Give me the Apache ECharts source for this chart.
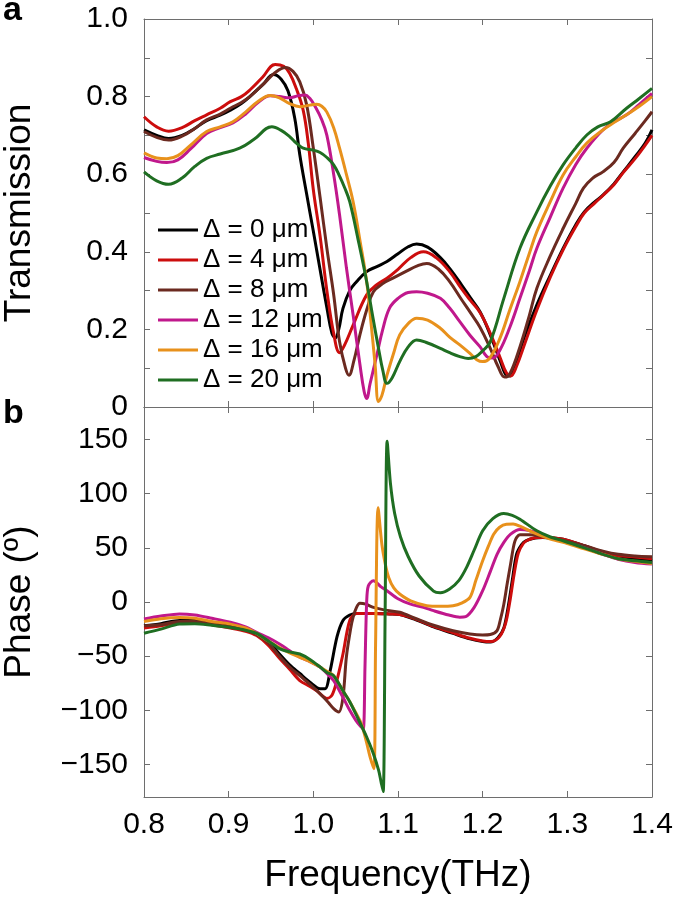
<!DOCTYPE html>
<html>
<head>
<meta charset="utf-8">
<script src="https://cdn.jsdelivr.net/npm/echarts@6/dist/echarts.min.js"></script>
<style>
html,body{margin:0;padding:0;background:#fff;}
#chart{width:675px;height:897px;}
</style>
</head>
<body>
<div id="chart"></div>
<script>
// ---------- data ----------
var seriesNames = ['\u0394 = 0 \u03bcm', '\u0394 = 4 \u03bcm', '\u0394 = 8 \u03bcm', '\u0394 = 12 \u03bcm', '\u0394 = 16 \u03bcm', '\u0394 = 20 \u03bcm'];
var seriesColors = ['#000000', '#cc0d0d', '#6b2a20', '#c0188c', '#e8911c', '#1f6e22'];
var freqTicks = [0.8, 0.9, 1.0, 1.1, 1.2, 1.3, 1.4];
var transTicks = [0, 0.2, 0.4, 0.6, 0.8, 1.0];
var phaseTicks = [-150, -100, -50, 0, 50, 100, 150];

// Transmission [frequency (THz), T]
var trans0 = [[0.800,0.714],[0.815,0.700],[0.829,0.692],[0.845,0.700],[0.860,0.718],[0.874,0.738],[0.890,0.752],[0.902,0.765],[0.915,0.782],[0.925,0.800],[0.940,0.830],[0.953,0.857],[0.962,0.845],[0.970,0.815],[0.978,0.745],[0.984,0.650],[0.992,0.550],[1.000,0.453],[1.008,0.354],[1.016,0.256],[1.022,0.190],[1.026,0.178],[1.030,0.200],[1.035,0.254],[1.043,0.300],[1.051,0.323],[1.063,0.349],[1.075,0.362],[1.087,0.375],[1.100,0.395],[1.112,0.413],[1.122,0.420],[1.135,0.412],[1.150,0.385],[1.161,0.357],[1.175,0.315],[1.185,0.283],[1.197,0.245],[1.209,0.186],[1.221,0.117],[1.228,0.082],[1.232,0.080],[1.240,0.120],[1.250,0.185],[1.264,0.263],[1.280,0.340],[1.295,0.409],[1.310,0.470],[1.320,0.503],[1.332,0.528],[1.342,0.546],[1.355,0.575],[1.366,0.606],[1.380,0.645],[1.392,0.680],[1.400,0.714]];
var trans4 = [[0.800,0.748],[0.815,0.722],[0.829,0.711],[0.845,0.720],[0.860,0.738],[0.874,0.753],[0.890,0.770],[0.902,0.787],[0.915,0.800],[0.925,0.817],[0.940,0.850],[0.955,0.883],[0.965,0.878],[0.972,0.860],[0.980,0.820],[0.988,0.765],[0.994,0.680],[1.000,0.560],[1.008,0.440],[1.016,0.300],[1.024,0.190],[1.031,0.140],[1.037,0.160],[1.047,0.211],[1.063,0.289],[1.075,0.315],[1.087,0.332],[1.100,0.355],[1.115,0.385],[1.130,0.400],[1.145,0.385],[1.161,0.349],[1.175,0.305],[1.185,0.276],[1.197,0.243],[1.209,0.190],[1.221,0.125],[1.228,0.088],[1.233,0.080],[1.240,0.105],[1.250,0.165],[1.264,0.250],[1.280,0.335],[1.295,0.405],[1.310,0.465],[1.320,0.500],[1.332,0.525],[1.342,0.545],[1.355,0.573],[1.366,0.604],[1.380,0.640],[1.392,0.675],[1.400,0.700]];
var trans8 = [[0.800,0.710],[0.815,0.695],[0.829,0.688],[0.845,0.698],[0.860,0.718],[0.874,0.740],[0.890,0.755],[0.902,0.770],[0.915,0.785],[0.925,0.800],[0.940,0.830],[0.955,0.862],[0.967,0.875],[0.976,0.865],[0.984,0.838],[0.992,0.780],[1.000,0.667],[1.008,0.540],[1.016,0.409],[1.024,0.290],[1.031,0.168],[1.038,0.100],[1.042,0.082],[1.048,0.120],[1.055,0.186],[1.063,0.250],[1.071,0.297],[1.082,0.318],[1.094,0.332],[1.110,0.350],[1.122,0.363],[1.134,0.370],[1.148,0.355],[1.161,0.323],[1.175,0.277],[1.185,0.245],[1.197,0.205],[1.209,0.151],[1.218,0.105],[1.226,0.077],[1.232,0.085],[1.244,0.155],[1.255,0.235],[1.264,0.306],[1.280,0.390],[1.295,0.460],[1.310,0.525],[1.319,0.564],[1.330,0.590],[1.342,0.606],[1.355,0.630],[1.366,0.667],[1.380,0.705],[1.392,0.738],[1.400,0.761]];
var trans12 = [[0.800,0.643],[0.815,0.633],[0.827,0.630],[0.840,0.637],[0.855,0.665],[0.874,0.705],[0.890,0.720],[0.905,0.732],[0.920,0.755],[0.935,0.785],[0.949,0.802],[0.960,0.800],[0.972,0.797],[0.982,0.802],[0.990,0.804],[0.996,0.795],[1.002,0.775],[1.010,0.740],[1.016,0.700],[1.024,0.600],[1.031,0.495],[1.039,0.360],[1.047,0.237],[1.055,0.110],[1.060,0.040],[1.063,0.022],[1.067,0.060],[1.075,0.134],[1.082,0.200],[1.090,0.255],[1.100,0.280],[1.112,0.295],[1.122,0.297],[1.135,0.293],[1.150,0.280],[1.161,0.255],[1.173,0.220],[1.185,0.185],[1.197,0.155],[1.205,0.130],[1.212,0.126],[1.220,0.145],[1.232,0.205],[1.244,0.280],[1.255,0.350],[1.264,0.409],[1.280,0.490],[1.295,0.564],[1.310,0.625],[1.323,0.667],[1.342,0.714],[1.355,0.735],[1.370,0.753],[1.385,0.780],[1.400,0.808]];
var trans16 = [[0.800,0.655],[0.815,0.642],[0.827,0.640],[0.840,0.648],[0.855,0.675],[0.874,0.710],[0.890,0.722],[0.905,0.735],[0.920,0.760],[0.935,0.788],[0.949,0.803],[0.960,0.797],[0.972,0.782],[0.984,0.774],[0.996,0.778],[1.004,0.780],[1.010,0.775],[1.016,0.760],[1.024,0.720],[1.031,0.667],[1.039,0.600],[1.047,0.529],[1.055,0.430],[1.063,0.323],[1.068,0.220],[1.073,0.108],[1.077,0.014],[1.081,0.030],[1.087,0.082],[1.095,0.140],[1.102,0.186],[1.112,0.215],[1.122,0.229],[1.135,0.224],[1.150,0.203],[1.161,0.180],[1.173,0.160],[1.185,0.138],[1.193,0.122],[1.200,0.117],[1.208,0.125],[1.220,0.175],[1.232,0.250],[1.244,0.323],[1.255,0.395],[1.264,0.452],[1.280,0.530],[1.295,0.598],[1.310,0.645],[1.323,0.680],[1.342,0.714],[1.355,0.733],[1.370,0.753],[1.385,0.775],[1.400,0.800]];
var trans20 = [[0.800,0.606],[0.815,0.583],[0.829,0.574],[0.845,0.590],[0.860,0.620],[0.874,0.641],[0.890,0.652],[0.913,0.667],[0.930,0.690],[0.951,0.722],[0.962,0.713],[0.972,0.697],[0.980,0.680],[0.988,0.667],[1.000,0.662],[1.008,0.656],[1.016,0.643],[1.024,0.624],[1.031,0.595],[1.037,0.565],[1.043,0.529],[1.053,0.430],[1.063,0.323],[1.070,0.235],[1.077,0.151],[1.082,0.095],[1.087,0.061],[1.093,0.075],[1.102,0.117],[1.112,0.155],[1.122,0.173],[1.135,0.165],[1.150,0.151],[1.161,0.140],[1.173,0.130],[1.183,0.125],[1.192,0.130],[1.200,0.145],[1.209,0.168],[1.225,0.280],[1.244,0.409],[1.264,0.503],[1.280,0.570],[1.295,0.624],[1.310,0.668],[1.323,0.701],[1.336,0.722],[1.351,0.735],[1.370,0.770],[1.385,0.795],[1.400,0.821]];

// Phase [frequency (THz), degrees]
var phase0 = [[0.800,-22],[0.820,-20],[0.842,-17],[0.860,-17],[0.880,-19],[0.902,-22],[0.920,-25],[0.933,-29],[0.947,-36],[0.960,-48],[0.972,-58],[0.984,-66],[0.996,-74],[1.008,-80],[1.014,-80],[1.020,-63],[1.028,-32],[1.035,-17],[1.043,-12],[1.051,-10.5],[1.070,-10.5],[1.090,-11],[1.102,-11.5],[1.120,-16],[1.142,-23],[1.165,-29],[1.185,-34],[1.200,-36.5],[1.209,-37],[1.218,-33],[1.225,-24],[1.230,-5],[1.235,20],[1.240,44],[1.246,53],[1.251,56.5],[1.262,59],[1.271,59.5],[1.283,59],[1.295,58],[1.320,52],[1.342,45.7],[1.360,42],[1.380,40],[1.400,38]];
var phase4 = [[0.800,-24],[0.820,-22],[0.842,-19],[0.860,-19],[0.880,-21],[0.902,-24],[0.920,-27],[0.933,-31],[0.947,-40],[0.960,-52],[0.972,-62],[0.984,-72.5],[0.996,-78],[1.004,-82],[1.016,-89],[1.022,-86],[1.027,-75],[1.035,-48],[1.043,-17],[1.051,-10.5],[1.070,-10.5],[1.090,-11],[1.102,-11.5],[1.120,-15.5],[1.142,-22.5],[1.165,-28.5],[1.185,-33.5],[1.200,-36],[1.210,-36.5],[1.220,-32],[1.227,-20],[1.232,0],[1.237,25],[1.242,45],[1.248,54],[1.253,57],[1.264,59.5],[1.275,59.5],[1.295,58],[1.320,52],[1.342,46],[1.360,43],[1.380,41.5],[1.400,40]];
var phase8 = [[0.800,-22],[0.820,-21],[0.842,-18],[0.860,-18],[0.880,-20],[0.902,-23],[0.920,-26],[0.933,-30],[0.947,-38],[0.960,-50],[0.972,-60],[0.984,-68],[0.996,-76],[1.008,-84.7],[1.018,-93],[1.024,-98.5],[1.030,-101.6],[1.035,-88],[1.039,-51],[1.044,-25],[1.047,-14],[1.051,-5],[1.055,-1.2],[1.062,-2],[1.071,-5],[1.085,-7.5],[1.102,-9.5],[1.120,-15],[1.142,-21.5],[1.165,-26.5],[1.185,-29.5],[1.200,-30.5],[1.209,-30],[1.217,-26.4],[1.221,-16],[1.225,-2],[1.229,17],[1.233,35],[1.238,56],[1.244,62],[1.255,62],[1.270,60.5],[1.290,57.5],[1.320,52],[1.342,47],[1.360,44],[1.380,42.5],[1.400,41.7]];
var phase12 = [[0.800,-15.7],[0.820,-13],[0.842,-11],[0.860,-12],[0.880,-15],[0.902,-18.7],[0.920,-23],[0.933,-28],[0.947,-33],[0.960,-38.7],[0.972,-45],[0.984,-51],[0.996,-55],[1.008,-60],[1.016,-66],[1.024,-72.5],[1.035,-88],[1.043,-100],[1.050,-109],[1.056,-115],[1.059,-117],[1.061,-60],[1.063,0],[1.065,15],[1.071,19.6],[1.080,14],[1.087,10.4],[1.100,3],[1.114,-1.8],[1.130,-5],[1.142,-8],[1.160,-12],[1.173,-14],[1.180,-13.5],[1.190,-5],[1.200,10.4],[1.209,28],[1.217,44],[1.225,55],[1.233,62.6],[1.244,67],[1.255,66],[1.270,62],[1.290,57],[1.320,50],[1.342,44],[1.360,39.5],[1.380,36.5],[1.400,35]];
var phase16 = [[0.800,-18],[0.820,-15.5],[0.842,-14.4],[0.860,-15],[0.880,-18],[0.902,-20.4],[0.920,-24],[0.933,-29],[0.947,-36],[0.960,-42],[0.972,-47],[0.984,-51],[0.996,-55],[1.008,-60],[1.016,-64],[1.024,-68],[1.035,-82],[1.043,-92],[1.050,-102],[1.057,-113],[1.063,-130],[1.067,-143],[1.0715,-154],[1.0735,-40],[1.0765,87],[1.081,53],[1.085,35],[1.089,22.7],[1.095,13],[1.102,7.4],[1.115,1],[1.134,-3.4],[1.150,-4],[1.165,-3.4],[1.175,-1],[1.185,4.3],[1.192,20],[1.200,38],[1.207,52],[1.213,62.6],[1.220,69],[1.228,71.8],[1.236,72],[1.244,70],[1.260,64],[1.280,58],[1.300,54],[1.320,49],[1.342,44],[1.360,40],[1.380,37.5],[1.400,35.5]];
var phase20 = [[0.800,-28.8],[0.820,-25],[0.842,-20.3],[0.860,-20],[0.880,-21.5],[0.902,-23.6],[0.920,-26],[0.933,-29],[0.947,-36],[0.960,-43],[0.972,-46],[0.984,-48],[0.996,-53],[1.008,-60],[1.016,-65],[1.024,-68],[1.035,-82],[1.043,-92],[1.053,-108],[1.063,-124.6],[1.070,-138],[1.077,-155],[1.080,-166],[1.0825,-175],[1.0848,-10],[1.0872,148.5],[1.091,110],[1.096,82],[1.103,60],[1.112,42],[1.125,24],[1.142,10],[1.150,8.5],[1.161,12],[1.172,20],[1.181,32],[1.190,48],[1.200,65.7],[1.212,77],[1.225,81.7],[1.235,80],[1.244,76.4],[1.264,65.7],[1.280,60],[1.295,56.5],[1.320,50],[1.342,44],[1.360,40],[1.380,38],[1.400,36.5]];

var transData = [trans0, trans4, trans8, trans12, trans16, trans20];
var phaseData = [phase0, phase4, phase8, phase12, phase16, phase20];

// ---------- chart ----------
var FONT = "'Liberation Sans', Arial, Helvetica, sans-serif";
var AX = '#6e6e6e';
var chart = echarts.init(document.getElementById('chart'), null, {renderer: 'canvas'});

function xAxisDef(gridIndex, position, showLabels) {
  var a = {
    type: 'value', gridIndex: gridIndex, position: position,
    min: 0.8, max: 1.4, interval: 0.1,
    axisLine: {show: true, onZero: false, lineStyle: {color: AX, width: 1}},
    axisTick: {show: true, inside: true, length: 6, lineStyle: {color: AX, width: 1}},
    splitLine: {show: false},
    axisLabel: {show: showLabels, fontFamily: FONT, fontSize: 30, color: '#000', margin: 13,
      formatter: function (v) { return v.toFixed(1); }}
  };
  if (showLabels) {
    a.name = 'Frequency(THz)';
    a.nameLocation = 'middle';
    a.nameGap = 60;
    a.nameTextStyle = {fontFamily: FONT, fontSize: 37, color: '#000'};
  }
  return a;
}

function transAxis(position, showLabels) {
  return {
    type: 'value', gridIndex: 0, position: position, min: 0, max: 1, interval: 0.1,
    axisLine: {show: true, onZero: false, lineStyle: {color: AX, width: 1}},
    axisTick: {show: true, inside: true, length: 6, lineStyle: {color: AX, width: 1}},
    splitLine: {show: false},
    name: showLabels ? 'Transmission' : '',
    nameLocation: 'middle', nameGap: 106,
    nameTextStyle: {fontFamily: FONT, fontSize: 37, color: '#000'},
    axisLabel: {show: showLabels, fontFamily: FONT, fontSize: 30, color: '#000', margin: 16,
      formatter: function (v) {
        var r = Math.round(v * 10) / 10;
        for (var i = 0; i < transTicks.length; i++) {
          if (Math.abs(transTicks[i] - r) < 1e-6) return r === 0 ? '0' : r.toFixed(1);
        }
        return '';
      }}
  };
}

function phaseAxis(position, showLabels) {
  return {
    type: 'value', gridIndex: 1, position: position, min: -180, max: 180,
    axisLine: {show: true, onZero: false, lineStyle: {color: AX, width: 1}},
    axisTick: {show: true, inside: true, length: 6, customValues: phaseTicks, lineStyle: {color: AX, width: 1}},
    splitLine: {show: false},
    name: showLabels ? 'Phase (\u00ba)' : '',
    nameLocation: 'middle', nameGap: 106,
    nameTextStyle: {fontFamily: FONT, fontSize: 37, color: '#000'},
    axisLabel: {show: showLabels, customValues: phaseTicks, fontFamily: FONT, fontSize: 30, color: '#000', margin: 16,
      formatter: function (v) { return v < 0 ? '\u2212' + Math.abs(v) : String(v); }}
  };
}

var series = [];
for (var i = 0; i < 6; i++) {
  series.push({
    name: seriesNames[i], type: 'line', xAxisIndex: 0, yAxisIndex: 0,
    data: transData[i], showSymbol: false, symbol: 'none', smooth: 0.4,
    lineStyle: {width: 3, color: seriesColors[i]}, itemStyle: {color: seriesColors[i]},
    z: 2 + i
  });
}
for (var j = 0; j < 6; j++) {
  series.push({
    name: seriesNames[j], type: 'line', xAxisIndex: 2, yAxisIndex: 2,
    data: phaseData[j], showSymbol: false, symbol: 'none', smooth: 0.3,
    lineStyle: {width: 3, color: seriesColors[j]}, itemStyle: {color: seriesColors[j]},
    z: 2 + j
  });
}

chart.setOption({
  animation: false,
  backgroundColor: '#ffffff',
  grid: [
    {left: 144, width: 508, top: 19, height: 388, containLabel: false, outerBoundsMode: 'none'},
    {left: 144, width: 508, top: 407, height: 390, containLabel: false, outerBoundsMode: 'none'}
  ],
  xAxis: [
    xAxisDef(0, 'bottom', false),
    xAxisDef(0, 'top', false),
    xAxisDef(1, 'bottom', true),
    xAxisDef(1, 'top', false)
  ],
  yAxis: [
    transAxis('left', true),
    transAxis('right', false),
    phaseAxis('left', true),
    phaseAxis('right', false)
  ],
  legend: {
    data: seriesNames, orient: 'vertical', left: 153, top: 212,
    icon: 'rect', itemWidth: 40, itemHeight: 3, itemGap: 4,
    textStyle: {fontFamily: FONT, fontSize: 26, color: '#000', lineHeight: 26, padding: [0, 0, 0, 0]},
    selectedMode: false
  },
  graphic: [
    {type: 'text', left: 3, top: -6, style: {text: 'a', font: 'bold 34px ' + FONT, fill: '#000'}},
    {type: 'text', left: 3, top: 397, style: {text: 'b', font: 'bold 34px ' + FONT, fill: '#000'}}
  ],
  series: series
});
</script>
</body>
</html>
